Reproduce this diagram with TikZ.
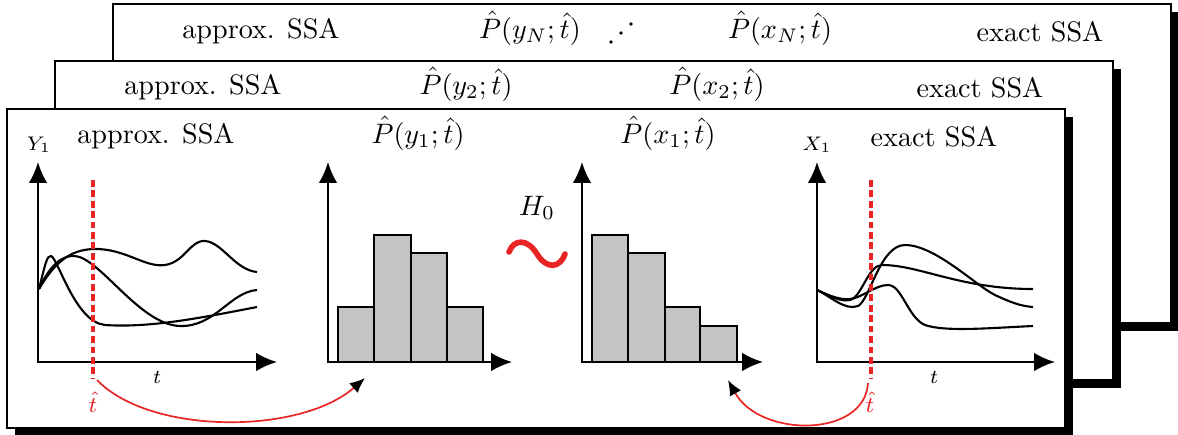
\documentclass[tikz,border=0pt]{standalone}
\usepackage{amsmath,amssymb}
\usepackage{xcolor}
\usepackage{tikz}
\usetikzlibrary{positioning,arrows.meta,shadows}
\definecolor{tred}{RGB}{232,36,36}
\definecolor{barfill}{RGB}{196,196,196}

\begin{document}
\begin{tikzpicture}[
  x=0.0125cm, y=-0.0125cm,
  card/.style={draw, line width=0.7pt, fill=white, anchor=north west, minimum width=13.225cm, minimum height=3.99cm, inner sep=0pt,
    drop shadow={shadow xshift=0.1cm, shadow yshift=-0.1cm, fill=black, opacity=1}},
  axes/.style={line width=0.75pt, {Latex[length=2.6mm, width=2.3mm]}-{Latex[length=2.6mm, width=2.3mm]}},
  trace/.style={line width=0.75pt},
  bar/.style={draw, line width=0.75pt, fill=barfill},
  tcut/.style={tred, line width=1.2pt, dash pattern=on 2.4pt off 1.3pt},
  jump/.style={tred, line width=0.6pt, -{Latex[black, length=1.9mm, width=1.6mm]}},
  lbl/.style={anchor=base, inner sep=0pt},
  axlbl/.style={anchor=base, inner sep=0pt, font=\scriptsize}
]
\useasboundingbox (0,0) rectangle (1178,434);
\node[card] (cardN) at (112,3) {};
\node[card] (card2) at (54,60) {};
\node[card] (card1) at (6,108) {};

\node[lbl] (ssaN) at (261,38) {approx. SSA};
\node[lbl] (pyN) at (530,38) {$\hat{P}(y_N;\hat{t})$};
\node[lbl] (pxN) at (780,38) {$\hat{P}(x_N;\hat{t})$};
\node[lbl] (exN) at (1040,41) {exact SSA};
\foreach \dx/\dy in {611/42, 621/33, 631/24}
  \fill (\dx,\dy) circle[radius=0.65pt];

\node[lbl] (ssa2) at (203,94) {approx. SSA};
\node[lbl] (py2) at (466,94) {$\hat{P}(y_2;\hat{t})$};
\node[lbl] (px2) at (717,94) {$\hat{P}(x_2;\hat{t})$};
\node[lbl] (ex2) at (980,97) {exact SSA};

\node[lbl] (ssa1) at (156,143) {approx. SSA};
\node[lbl] (py1) at (418,143) {$\hat{P}(y_1;\hat{t})$};
\node[lbl] (px1) at (668,143) {$\hat{P}(x_1;\hat{t})$};
\node[lbl] (ex1) at (934,146) {exact SSA};

\node[axlbl] (ylab) at (39,150) {$Y_1$};
\node[axlbl] (tlabA) at (157,383) {$t$};
\draw[axes] (38,162) -- (38,362) -- (277,362);
\draw[trace] (39,289) .. controls (45,265) and (47,255) .. (51,256) .. controls (58,258) and (75,322) .. (105,325) .. controls (150,328) and (200,318) .. (257,307);
\draw[trace] (39,289) .. controls (50,265) and (62,255) .. (75,256) .. controls (100,258) and (140,325) .. (180,326) .. controls (215,327) and (230,292) .. (257,290);
\draw[trace] (39,289) .. controls (55,262) and (70,250) .. (93,249) .. controls (125,248) and (145,268) .. (165,265) .. controls (185,262) and (190,240) .. (205,241) .. controls (222,242) and (235,270) .. (257,272);
\coordinate (cutAtop) at (93,180);
\coordinate (cutAbot) at (93,378);
\draw[tcut] (cutAtop) -- (cutAbot);
\node[lbl, tred, font=\footnotesize] (thA) at (93,412) {$\hat{t}$};

\draw[axes] (328,162) -- (328,362) -- (512,362);
\foreach \l/\r/\t in {338/374/307, 374/411/235, 411/447/253, 447/483/307}
  \draw[bar] (\l,362) rectangle (\r,\t);
\coordinate (histA) at (365,378);

\node[lbl] (h0) at (537,215) {$H_0$};
\draw[tred, line width=2pt, line cap=round] (509,252) .. controls (514,239) and (527,238) .. (537,254) .. controls (547,270) and (560,268) .. (565,254);

\draw[axes] (582,162) -- (582,362) -- (763,362);
\foreach \l/\r/\t in {592/628/235, 628/665/253, 665/700/307, 700/737/326}
  \draw[bar] (\l,362) rectangle (\r,\t);
\coordinate (histB) at (728,380);

\node[axlbl] (xlab) at (817,150) {$X_1$};
\node[axlbl] (tlabB) at (934,383) {$t$};
\draw[axes] (817,162) -- (817,362) -- (1055,362);
\draw[trace] (817,290) .. controls (830,296) and (845,311) .. (858,306) .. controls (870,300) and (880,245) .. (905,245) .. controls (935,245) and (975,285) .. (995,295) .. controls (1010,302) and (1020,306) .. (1033,307);
\draw[trace] (817,290) .. controls (830,296) and (840,302) .. (850,300) .. controls (862,297) and (868,265) .. (882,265) .. controls (920,265) and (960,289) .. (1033,289);
\draw[trace] (817,290) .. controls (830,296) and (840,300) .. (850,299) .. controls (862,298) and (875,285) .. (888,285) .. controls (902,285) and (908,318) .. (925,325) .. controls (945,332) and (990,328) .. (1033,326);
\coordinate (cutBtop) at (871,180);
\coordinate (cutBbot) at (871,378);
\draw[tcut] (cutBtop) -- (cutBbot);
\node[lbl, tred, font=\footnotesize] (thB) at (870,412) {$\hat{t}$};

\draw[jump] (97,380) .. controls (150,435) and (300,435) .. (histA);
\draw[jump] (868,383) .. controls (865,438) and (760,438) .. (histB);
\end{tikzpicture}
\end{document}
